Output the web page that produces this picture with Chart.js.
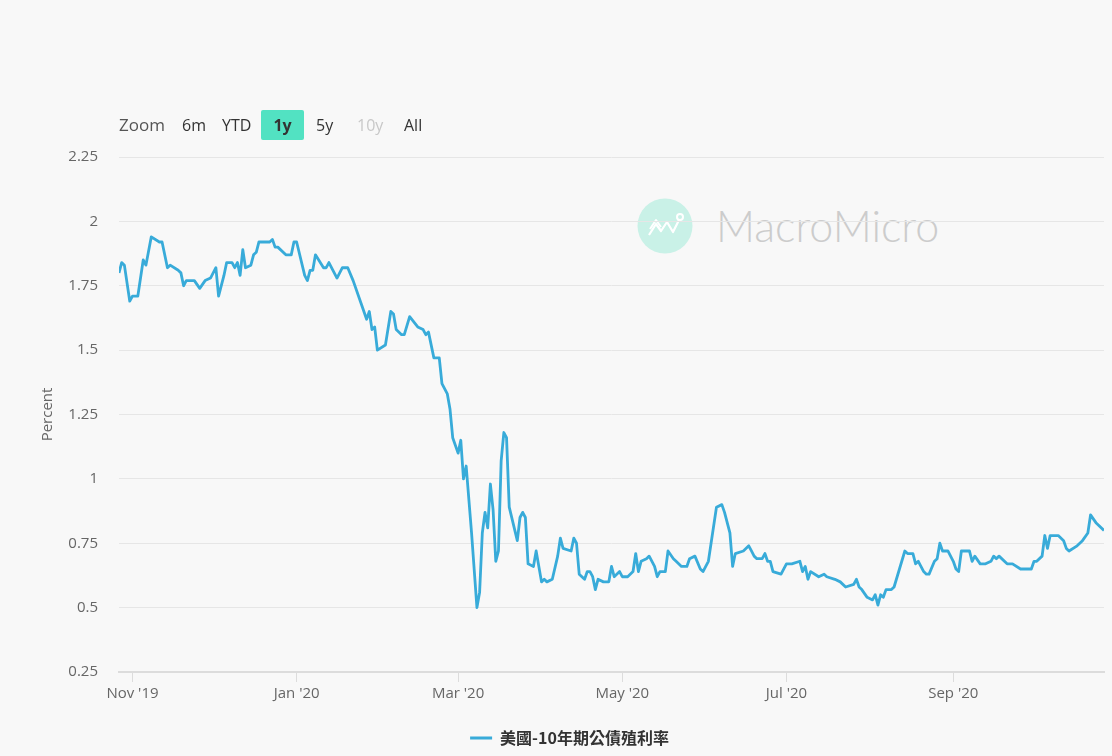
<!DOCTYPE html>
<html>
<head>
<meta charset="utf-8">
<script src="https://cdn.jsdelivr.net/npm/chart.js@4.4.1/dist/chart.umd.min.js"></script>
<style>
html,body{margin:0;padding:0;background:#f8f8f8;}
#wrap{position:relative;width:1112px;height:756px;overflow:hidden;font-family:'Open Sans',sans-serif;}
#c{position:absolute;left:0;top:0;z-index:2;}
.zl{position:absolute;top:110px;height:30px;line-height:30px;font-size:16px;color:#333;z-index:3;white-space:nowrap;}
#wm{position:absolute;left:637px;top:198px;z-index:1;}
#wmText{position:absolute;left:716px;top:198px;height:56px;line-height:56px;font-family:Lato,'Open Sans',sans-serif;font-weight:300;font-size:43px;color:#cccccc;z-index:1;white-space:nowrap;}
</style>
</head>
<body>
<div id="wrap">
  <svg id="wm" width="56" height="56" viewBox="0 0 56 56">
    <circle cx="28" cy="28" r="27.5" fill="#c9f1e7"/>
    <polyline points="12,37 19,26 24,33 30,24 36,34 42,22" fill="none" stroke="#ffffff" stroke-width="2.2" stroke-linejoin="round"/>
    <polyline points="13,31 19,22 24,29" fill="none" stroke="#ffffff" stroke-width="2" stroke-linejoin="round"/>
    <circle cx="43" cy="19" r="3" fill="none" stroke="#ffffff" stroke-width="2"/>
  </svg>
  <div id="wmText">MacroMicro</div>
  <div class="zl" style="left:119px;font-size:17px;color:#555;">Zoom</div>
  <div class="zl" style="left:182px;">6m</div>
  <div class="zl" style="left:222px;">YTD</div>
  <div class="zl" style="left:261px;width:43px;text-align:center;background:#52e2c2;border-radius:2px;font-weight:bold;">1y</div>
  <div class="zl" style="left:316px;">5y</div>
  <div class="zl" style="left:357px;color:#c8c8c8;">10y</div>
  <div class="zl" style="left:404px;">All</div>
  <canvas id="c" width="1112" height="756"></canvas>
</div>
<script>
const seriesName = '美國-10年期公債殖利率';
const dates = [
'2019-10-27','2019-10-28','2019-10-29','2019-10-31','2019-11-01','2019-11-03','2019-11-05','2019-11-06','2019-11-08','2019-11-11',
'2019-11-12','2019-11-14','2019-11-15','2019-11-18','2019-11-19','2019-11-20','2019-11-21','2019-11-24','2019-11-26','2019-11-28',
'2019-11-30','2019-12-02','2019-12-03','2019-12-05','2019-12-06','2019-12-08','2019-12-09','2019-12-10','2019-12-11','2019-12-12',
'2019-12-13','2019-12-15','2019-12-16','2019-12-17','2019-12-18','2019-12-20','2019-12-22','2019-12-23','2019-12-24','2019-12-25',
'2019-12-28','2019-12-30','2019-12-31','2020-01-01','2020-01-04','2020-01-05','2020-01-06','2020-01-07','2020-01-08','2020-01-11',
'2020-01-12','2020-01-13','2020-01-16','2020-01-18','2020-01-20','2020-01-22','2020-01-25','2020-01-27','2020-01-28','2020-01-29',
'2020-01-30','2020-01-31','2020-02-03','2020-02-05','2020-02-06','2020-02-07','2020-02-09','2020-02-10','2020-02-12','2020-02-15',
'2020-02-17','2020-02-18','2020-02-19','2020-02-21','2020-02-23','2020-02-24','2020-02-26','2020-02-27','2020-02-28','2020-03-01',
'2020-03-02','2020-03-03','2020-03-04','2020-03-06','2020-03-08','2020-03-09','2020-03-10','2020-03-11','2020-03-12','2020-03-13',
'2020-03-14','2020-03-15','2020-03-16','2020-03-17','2020-03-18','2020-03-19','2020-03-20','2020-03-23','2020-03-24','2020-03-25',
'2020-03-26','2020-03-27','2020-03-29','2020-03-30','2020-04-01','2020-04-02','2020-04-03','2020-04-05','2020-04-07','2020-04-08',
'2020-04-09','2020-04-12','2020-04-13','2020-04-14','2020-04-15','2020-04-17','2020-04-18','2020-04-19','2020-04-20','2020-04-21',
'2020-04-22','2020-04-24','2020-04-26','2020-04-27','2020-04-28','2020-04-30','2020-05-01','2020-05-03','2020-05-05','2020-05-06',
'2020-05-07','2020-05-08','2020-05-10','2020-05-11','2020-05-13','2020-05-14','2020-05-15','2020-05-17','2020-05-18','2020-05-20',
'2020-05-21','2020-05-23','2020-05-25','2020-05-26','2020-05-28','2020-05-30','2020-05-31','2020-06-02','2020-06-03','2020-06-05',
'2020-06-07','2020-06-08','2020-06-10','2020-06-11','2020-06-12','2020-06-15','2020-06-17','2020-06-18','2020-06-19','2020-06-20',
'2020-06-22','2020-06-23','2020-06-24','2020-06-25','2020-06-26','2020-06-29','2020-07-01','2020-07-03','2020-07-06','2020-07-07',
'2020-07-08','2020-07-09','2020-07-10','2020-07-13','2020-07-15','2020-07-16','2020-07-19','2020-07-21','2020-07-23','2020-07-26',
'2020-07-27','2020-07-28','2020-07-29','2020-07-31','2020-08-02','2020-08-03','2020-08-04','2020-08-05','2020-08-06','2020-08-07',
'2020-08-09','2020-08-10','2020-08-12','2020-08-14','2020-08-15','2020-08-17','2020-08-18','2020-08-19','2020-08-21','2020-08-22',
'2020-08-23','2020-08-25','2020-08-26','2020-08-27','2020-08-28','2020-08-30','2020-09-01','2020-09-02','2020-09-03','2020-09-04',
'2020-09-07','2020-09-08','2020-09-09','2020-09-11','2020-09-13','2020-09-15','2020-09-16','2020-09-17','2020-09-18','2020-09-21',
'2020-09-23','2020-09-26','2020-09-29','2020-09-30','2020-10-01','2020-10-02','2020-10-04','2020-10-05','2020-10-06','2020-10-07',
'2020-10-10','2020-10-12','2020-10-13','2020-10-14','2020-10-17','2020-10-19','2020-10-21','2020-10-22','2020-10-24','2020-10-27'
];
const yields = [
1.80,1.84,1.83,1.69,1.71,1.71,1.85,1.83,1.94,1.92,
1.92,1.82,1.83,1.81,1.80,1.75,1.77,1.77,1.74,1.77,
1.78,1.82,1.71,1.79,1.84,1.84,1.82,1.84,1.79,1.89,
1.82,1.83,1.87,1.88,1.92,1.92,1.92,1.93,1.90,1.90,
1.87,1.87,1.92,1.92,1.79,1.77,1.81,1.81,1.87,1.82,
1.82,1.84,1.78,1.82,1.82,1.77,1.68,1.62,1.65,1.58,
1.59,1.50,1.52,1.65,1.64,1.58,1.56,1.56,1.63,1.59,
1.58,1.56,1.57,1.47,1.47,1.37,1.33,1.27,1.16,1.10,
1.15,1.00,1.05,0.79,0.50,0.56,0.79,0.87,0.81,0.98,
0.88,0.68,0.72,1.07,1.18,1.16,0.89,0.76,0.85,0.87,
0.85,0.67,0.66,0.72,0.60,0.61,0.60,0.61,0.70,0.77,
0.73,0.72,0.77,0.75,0.63,0.61,0.64,0.64,0.62,0.57,
0.61,0.60,0.60,0.66,0.62,0.64,0.62,0.62,0.64,0.71,
0.64,0.68,0.69,0.70,0.66,0.62,0.64,0.64,0.72,0.69,
0.68,0.66,0.66,0.69,0.70,0.65,0.64,0.68,0.75,0.89,
0.90,0.87,0.79,0.66,0.71,0.72,0.74,0.72,0.70,0.69,
0.69,0.71,0.68,0.68,0.64,0.63,0.67,0.67,0.68,0.64,
0.66,0.61,0.64,0.62,0.63,0.62,0.61,0.60,0.58,0.59,
0.61,0.58,0.57,0.54,0.53,0.55,0.51,0.55,0.54,0.57,
0.57,0.58,0.65,0.72,0.71,0.71,0.67,0.68,0.64,0.63,
0.63,0.68,0.69,0.75,0.72,0.72,0.68,0.65,0.64,0.72,
0.72,0.68,0.70,0.67,0.67,0.68,0.70,0.69,0.70,0.67,
0.67,0.65,0.65,0.65,0.68,0.68,0.70,0.78,0.73,0.78,
0.78,0.76,0.73,0.72,0.74,0.76,0.79,0.86,0.83,0.80
];
const xTickDates = ['2019-11-01','2020-01-01','2020-03-01','2020-05-01','2020-07-01','2020-09-01'];
const xTickLabels = ["Nov '19","Jan '20","Mar '20","May '20","Jul '20","Sep '20"];
const yTicks = [0.25,0.5,0.75,1,1.25,1.5,1.75,2,2.25];
const yTickLabels = ['0.25','0.5','0.75','1','1.25','1.5','1.75','2','2.25'];

const DAY = 86400000;
const ORIGIN = Date.UTC(2019,10,1);
function dayOf(s){const p=s.split('-').map(Number);return Math.round((Date.UTC(p[0],p[1]-1,p[2])-ORIGIN)/DAY);}
const points = dates.map((d,i)=>({x:dayOf(d),y:yields[i]}));
const xTickVals = xTickDates.map(dayOf);
const LINE = '#38abd9';
const FONT = "'Open Sans', sans-serif";

new Chart(document.getElementById('c').getContext('2d'), {
  type:'line',
  data:{datasets:[{label:seriesName,data:points,borderColor:LINE,backgroundColor:LINE,borderWidth:2.8,pointRadius:0,pointHoverRadius:0,tension:0,fill:false,borderJoinStyle:'round'}]},
  options:{
    responsive:false, animation:false, devicePixelRatio:1,
    layout:{padding:{top:157,left:35,right:8,bottom:0}},
    plugins:{
      tooltip:{enabled:false},
      legend:{position:'bottom',labels:{boxWidth:22,boxHeight:3,padding:10,color:'#333',
        font:{family:"'Noto Sans CJK TC', sans-serif",size:16,weight:'bold'},
        generateLabels(chart){const items=Chart.defaults.plugins.legend.labels.generateLabels(chart);items.forEach(it=>{it.lineWidth=0;it.fillStyle=LINE;});return items;}}}
    },
    scales:{
      x:{type:'linear',min:dayOf(dates[0]),max:dayOf(dates[dates.length-1]),
        afterBuildTicks(s){s.ticks=xTickVals.map(v=>({value:v}));},
        afterFit(s){s.height=48;},
        ticks:{autoSkip:false,maxRotation:0,padding:3,color:'#666',font:{family:FONT,size:15},
          callback(v){const i=xTickVals.indexOf(v);return i>=0?xTickLabels[i]:'';}},
        grid:{drawOnChartArea:false,drawTicks:true,tickLength:10,color:'#dcdcdc',lineWidth:1},
        border:{display:true,color:'#dcdcdc',width:2}},
      y:{min:0.25,max:2.25,
        afterBuildTicks(s){s.ticks=yTicks.map(v=>({value:v}));},
        afterFit(s){s.width=84;},
        ticks:{padding:21,color:'#666',font:{family:FONT,size:15},
          callback(v){const i=yTicks.indexOf(v);return i>=0?yTickLabels[i]:'';}},
        grid:{color:'#e6e6e6',drawTicks:false,lineWidth:1},
        border:{display:false},
        title:{display:true,text:'Percent',color:'#666',font:{family:FONT,size:15}}}
    }
  }
});
</script>
</body>
</html>
